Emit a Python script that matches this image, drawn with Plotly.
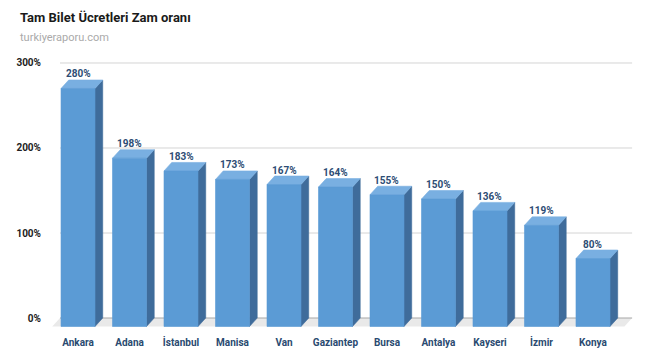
import plotly.graph_objects as go

cities = ["Ankara", "Adana", "İstanbul", "Manisa", "Van", "Gaziantep", "Bursa",
          "Antalya", "Kayseri", "İzmir", "Konya"]
values = [280, 198, 183, 173, 167, 164, 155, 150, 136, 119, 80]
y_ticks = [0, 100, 200, 300]
y_tick_text = ["0%", "100%", "200%", "300%"]

W = 0.66     # front face width (category units)
DX = 0.15    # depth offset in x (category units)
DY = 10      # depth offset in y (data units)

FRONT = "#5b9bd5"
SIDE = "#3f6c9b"
TOP = "#79afe1"

fig = go.Figure()

n = len(cities)
left_back = -0.5 + DX
right_back = n - 1 + 0.6 + DX + 0.01

# grid lines on back plane
gx, gy = [], []
for t in y_ticks[1:]:
    gx += [left_back, right_back, None]
    gy += [t, t, None]
fig.add_trace(go.Scatter(x=gx, y=gy, mode="lines", line=dict(color="#d4d4d4", width=1),
                         hoverinfo="skip", showlegend=False))

# floor
fig.add_trace(go.Scatter(x=[-0.5, left_back, right_back, right_back - DX, -0.5],
                         y=[-DY, 0, 0, -DY, -DY], mode="lines", fill="toself",
                         fillcolor="#e9e9e9", line=dict(width=0), hoverinfo="skip",
                         showlegend=False))
fig.add_trace(go.Scatter(x=[left_back, right_back], y=[0, 0], mode="lines",
                         line=dict(color="#a8a8a8", width=1.2), hoverinfo="skip",
                         showlegend=False))

fx, fy, sx, sy, tx, ty = [], [], [], [], [], []
for i, v in enumerate(values):
    l, r = i - W / 2, i + W / 2
    fx += [l, r, r, l, l, None]
    fy += [-DY, -DY, v - DY, v - DY, -DY, None]
    sx += [r, r + DX, r + DX, r, r, None]
    sy += [-DY, 0, v, v - DY, -DY, None]
    tx += [l, l + DX, r + DX, r, l, None]
    ty += [v - DY, v, v, v - DY, v - DY, None]

for xs, ys, c in [(sx, sy, SIDE), (tx, ty, TOP), (fx, fy, FRONT)]:
    fig.add_trace(go.Scatter(x=xs, y=ys, mode="lines", fill="toself", fillcolor=c,
                             line=dict(width=0.6, color=c), hoverinfo="skip",
                             showlegend=False))

for i, v in enumerate(values):
    fig.add_annotation(x=i, y=v, text=f"<b>{v}%</b>", showarrow=False, yshift=6,
                       yanchor="middle", font=dict(size=10, color="#2d4d74"))

fig.update_layout(
    width=650, height=360,
    margin=dict(l=45, r=10, t=55, b=25),
    paper_bgcolor="white", plot_bgcolor="white",
    font=dict(family="Roboto, Arial, sans-serif"),
    xaxis=dict(range=[-0.641, 10.913], tickmode="array", tickvals=list(range(n)),
               ticktext=[f"<b>{c}</b>" for c in cities], showgrid=False, zeroline=False,
               showline=False, ticks="", tickfont=dict(size=10, color="#2a4a70")),
    yaxis=dict(range=[-20, 309.4], tickmode="array", tickvals=y_ticks,
               ticktext=[f"<b>{t}</b>" for t in y_tick_text], showgrid=False,
               zeroline=False, showline=False, ticks="", ticklabelstandoff=3,
               tickfont=dict(size=10, color="#222222")),
)

fig.add_annotation(xref="paper", yref="paper", x=-45/595, y=1 + (55 - 17) / 280,
                   xanchor="left", yanchor="middle", showarrow=False,
                   text="<b>Tam Bilet Ücretleri Zam oranı</b>",
                   font=dict(size=13, color="#1a1a1a"), xshift=18)
fig.add_annotation(xref="paper", yref="paper", x=-45/595, y=1 + (55 - 37) / 280,
                   xanchor="left", yanchor="middle", showarrow=False,
                   text="turkiyeraporu.com", font=dict(size=11, color="#aaaaaa"),
                   xshift=18)

fig.write_html("out.html")
